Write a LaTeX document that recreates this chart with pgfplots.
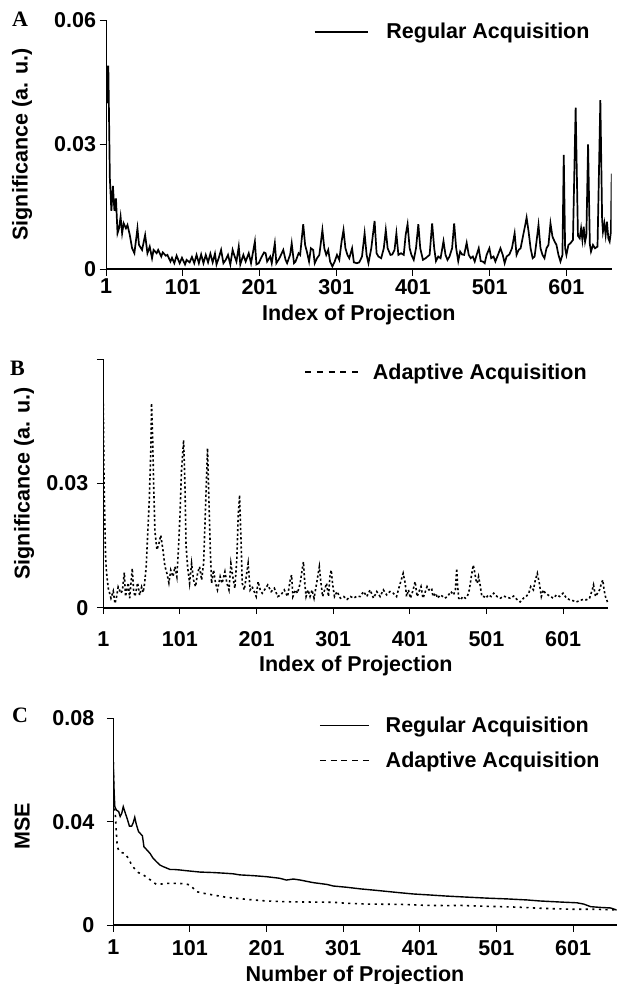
\documentclass[border=0pt]{standalone}
\usepackage{fontspec}
\setmainfont{Liberation Sans}
\newfontfamily\letterfont{Liberation Serif}
\usepackage{pgfplots}
\pgfplotsset{compat=1.18}

\pgfplotstableread{
x y
1 0.046
2 0.049
3 0.040
4 0.049
5 0.036
6 0.022
8 0.014
10 0.020
12 0.014
14 0.017
16 0.0086
18 0.0098
20 0.0126
22 0.0086
24 0.011
27 0.0098
29 0.0106
32 0.0082
35 0.005
38 0.0038
42 0.0098
44 0.0058
48 0.0046
52 0.0082
55 0.0038
58 0.0054
61 0.0026
63 0.0046
67 0.0038
69 0.0046
73 0.003
75 0.004
79 0.0032
81 0.0034
85 0.0018
87 0.0027
90 0.0014
93 0.0032
97 0.0014
100 0.0027
104 0.0011
106 0.0022
110 0.0016
113 0.0029
116 0.0014
119 0.0034
122 0.0014
125 0.0035
128 0.0014
131 0.0034
134 0.0016
137 0.0037
140 0.0016
143 0.0037
145 0.0011
148 0.0027
151 0.0046
154 0.0014
157 0.0022
160 0.0034
163 0.0011
166 0.0046
168 0.0034
171 0.0018
174 0.0054
176 0.0011
180 0.0034
183 0.0018
187 0.0038
190 0.0014
195 0.0066
197 0.0011
200 0.0014
204 0.003
207 0.004
209 0.0038
211 0.0018
215 0.003
217 0.0014
221 0.0062
223 0.0014
227 0.0026
229 0.0034
232 0.0046
235 0.0022
237 0.0014
241 0.0035
243 0.0062
246 0.0014
248 0.0018
252 0.0038
254 0.0034
258 0.0108
260.5 0.0058
263 0.004
265.6 0.0018
268 0.005
271 0.0046
273 0.0014
276 0.0026
279 0.0034
283 0.0094
285.5 0.005
288 0.0034
290.6 0.0046
293 0.0018
296 0.0006
299 0.0018
302 0.0034
305 0.0022
308 0.0066
310.5 0.0094
313 0.005
315.6 0.0034
318 0.0026
321.7 0.005
324 0.0016
328 0.0014
331 0.0016
334.6 0.003
338 0.0086
340.6 0.0034
343 0.0014
346.7 0.005
351 0.0116
353.6 0.0038
356 0.003
359.6 0.0026
363 0.005
365.6 0.0094
368 0.005
371.7 0.0034
374 0.0035
377 0.0046
379.4 0.0086
382 0.0034
385.5 0.0038
389 0.0034
391.5 0.0082
394 0.0108
396.7 0.005
399 0.0034
402 0.0022
405 0.005
408 0.0108
410.5 0.005
414 0.0022
417.5 0.0026
420 0.003
422.7 0.0034
426 0.011
428.7 0.005
431 0.0019
434 0.003
437 0.0026
440.8 0.0067
443.4 0.0034
446 0.0022
448.6 0.003
452 0.005
454.7 0.011
457.3 0.005
460 0.0019
462.5 0.0042
465 0.0035
467.7 0.0034
471 0.0063
473.7 0.0034
476.3 0.0026
479 0.003
481.5 0.0018
484 0.0034
486.7 0.005
489.3 0.0019
492 0.0018
494.5 0.0014
497 0.0034
500.6 0.005
503 0.0026
506 0.003
508.4 0.0018
512 0.0035
515 0.005
518 0.0034
520.5 0.0014
523 0.003
526.6 0.0035
530 0.005
533.5 0.0086
536 0.0034
538.7 0.0046
541.3 0.005
544.7 0.0082
547.3 0.0106
549.1 0.0124
551.7 0.009
554.3 0.005
557 0.0026
559.5 0.003
562 0.0066
564.6 0.0106
567.2 0.005
569.8 0.0034
572.4 0.0026
575 0.005
577.6 0.0058
580.2 0.011
582.8 0.0078
585.4 0.0067
588 0.0058
590.6 0.0034
593.2 0.0018
595.8 0.0034
597.5 0.0275
599.3 0.005
601 0.0034
603.6 0.0058
606.2 0.0062
609.5 0.007
613 0.0389
616 0.008
618.3 0.0074
620.1 0.0098
621.8 0.007
623.5 0.0102
625.3 0.0066
627 0.0082
629.2 0.030
631.5 0.006
633 0.0042
635.6 0.0058
638.2 0.005
641.5 0.0054
645.2 0.0407
647.5 0.012
648.6 0.009
650.4 0.011
652.1 0.0082
653.8 0.0114
655.6 0.0074
657.3 0.0066
659 0.009
660 0.023
}\regular

\pgfplotstableread{
x y
1 0.0493
2 0.030
4 0.012
5.3 0.0083
7.5 0.0047
11 0.0023
14 0.004
16.2 0.001
18.4 0.0027
20.4 0.005
24 0.0035
26 0.0042
28.4 0.0085
30 0.0027
33.6 0.006
35.4 0.0023
38.8 0.0095
40.5 0.0043
42.3 0.0027
45.8 0.006
48.4 0.003
51 0.005
53 0.0037
55 0.006
57 0.01
59 0.018
61 0.026
63 0.038
64 0.0494
65.5 0.040
66.7 0.030
68.4 0.0184
71 0.014
73.6 0.0155
76 0.0175
78.8 0.014
81.4 0.010
84 0.0083
86.6 0.006
89 0.0091
91.9 0.0075
94.5 0.0099
97 0.0075
99 0.014
101 0.022
103 0.033
105.8 0.0405
107.5 0.030
109 0.015
111 0.0099
113.6 0.0059
116.2 0.0107
118.8 0.0067
121.4 0.0051
124 0.0083
126.6 0.0099
129.3 0.0067
131.9 0.0107
134 0.022
137 0.0385
138.8 0.026
140.6 0.014
142.3 0.0059
144.9 0.0091
147.5 0.0059
150 0.0043
153.5 0.0075
156 0.0059
159.7 0.0087
162.3 0.0059
165 0.0043
167.5 0.0107
170 0.0075
172.7 0.0047
175.3 0.012
177 0.022
178.8 0.0272
180.6 0.017
182.3 0.0059
185 0.0043
187.5 0.0075
190 0.0107
192.6 0.0043
195.2 0.0051
197.9 0.0039
200.5 0.0027
203 0.0063
205.8 0.0043
208.4 0.0035
211.3 0.0043
215.6 0.0055
220 0.0039
224.2 0.0047
228.6 0.0027
232.9 0.0031
237.2 0.0043
241.5 0.0027
244.9 0.0067
246.7 0.0079
248.4 0.0027
251.8 0.0043
254.4 0.0035
257.9 0.0059
260.4 0.0091
262.2 0.0111
263.9 0.0059
265.6 0.0027
268.2 0.0043
270.8 0.0027
273.4 0.0043
276 0.0023
279.4 0.0059
282.9 0.0099
284.6 0.0067
287.2 0.0027
289.8 0.0043
292.3 0.0059
294.9 0.0027
296.7 0.0075
298.4 0.0091
300.1 0.0059
302.7 0.0027
306.1 0.0039
310.4 0.0023
314.8 0.0027
319.1 0.002
323.4 0.0027
327.7 0.0023
332 0.0028
336.3 0.0027
340.6 0.0039
344.9 0.0027
349.2 0.0043
353.6 0.0023
357.9 0.0039
362.2 0.0027
366.5 0.0043
370.8 0.0031
375.1 0.0039
379.4 0.0035
383.7 0.0027
387.2 0.0051
389.8 0.0067
392.3 0.0083
395 0.0059
396.7 0.0027
399.2 0.0043
401.8 0.0023
405.3 0.0043
407.9 0.0063
410.5 0.0027
413 0.0039
415.6 0.0051
418.2 0.0023
423.5 0.0051
426 0.0043
429.5 0.0047
431.2 0.0027
434.7 0.0035
437.3 0.0023
440.7 0.0031
444.1 0.0027
446.7 0.0023
450.2 0.0027
454.5 0.0039
458 0.0031
460.5 0.0043
462.2 0.0095
463.1 0.0059
464.8 0.0023
467.4 0.0019
470 0.0027
473.5 0.0023
476 0.0027
478.6 0.0043
481.2 0.0075
483.8 0.0103
485.5 0.0087
487.3 0.0067
489 0.0059
490.7 0.0075
492.4 0.0059
495 0.0027
497.6 0.0027
500.2 0.0023
503.6 0.0031
507.1 0.0027
510.5 0.0035
514.8 0.0027
519.2 0.0023
523.5 0.0028
527.8 0.0025
532.1 0.0023
536.4 0.0028
540.7 0.002
545 0.0014
549.3 0.0023
552.8 0.0027
556.2 0.0035
558.8 0.0051
562.3 0.0043
564.8 0.0067
567.4 0.0083
570 0.0059
572.6 0.0027
575.2 0.0043
577.8 0.0035
581.2 0.0031
584.7 0.0027
588.1 0.0023
592.4 0.0031
596.7 0.0027
601 0.0035
605.4 0.0023
609.7 0.0019
614 0.0017
618.3 0.0014
622.6 0.0017
626.9 0.002
631.3 0.0019
635.5 0.0023
639 0.0043
640.7 0.0055
643.3 0.0027
645.9 0.0035
648.5 0.0043
651.1 0.0059
652.8 0.0067
654.5 0.0043
656.2 0.0027
658 0.0019
659.7 0.0009
}\adaptive

\pgfplotstableread{
x y
1 0.063
2 0.052
3 0.0458
5 0.0445
8 0.0439
10 0.042
12 0.0432
14 0.0458
17 0.043
19 0.0413
22 0.0383
25 0.0383
27 0.0396
29 0.0417
31 0.039
34 0.0361
36 0.0355
39 0.0345
41 0.0303
45 0.029
49 0.0277
53 0.0258
58 0.0243
62 0.0232
66 0.0226
71 0.022
75 0.0215
80 0.0215
88 0.0213
97 0.021
114 0.0205
132 0.0203
149 0.020
158 0.0198
166 0.0194
184 0.0191
201 0.0187
218 0.0181
227 0.0174
236 0.0178
245 0.0174
262 0.0164
280 0.0157
288 0.0151
306 0.0146
323 0.014
341 0.0135
358 0.013
375 0.0125
393 0.012
410 0.0117
436 0.0112
462 0.0108
489 0.0104
515 0.0101
541 0.0097
558 0.0093
584 0.0089
606 0.0086
615 0.0081
624 0.0071
637 0.0068
650 0.0066
658 0.0058
}\mseregular

\pgfplotstableread{
x y
1 0.063
2 0.046
3.6 0.0432
4.5 0.038
6.2 0.0303
8.8 0.0284
12.3 0.028
16.2 0.0277
20.6 0.0258
25 0.0232
29.3 0.0216
33.7 0.0203
40 0.0194
46.7 0.0181
53.2 0.0165
57.6 0.0157
62 0.0158
70.7 0.0161
88 0.0161
96.8 0.0158
101 0.0155
105.5 0.0142
109.8 0.0129
118.5 0.0123
131.6 0.0116
149 0.0107
166.4 0.0102
183.8 0.0097
201 0.0093
227 0.009
253.5 0.0089
288 0.0088
305.7 0.0084
332 0.0081
375 0.008
410 0.0076
440 0.0075
453.7 0.0076
470 0.0074
506 0.0071
530 0.0069
549.5 0.0066
575.7 0.0063
601.8 0.0061
630 0.0061
658 0.0058
}\mseadaptive

\pgfplotsset{
  panel/.style={
    scale only axis,
    axis lines=left,
    axis line style={-, line width=1pt},
    tick align=outside,
    major tick length=6.5pt,
    tick style={black, line width=1pt},
    scaled x ticks=false, scaled y ticks=false,
    xmin=1, xmax=660,
    xtick={1,101,201,301,401,501,601},
    xticklabels={1,101,201,301,401,501,601},
    font=\fontsize{21.5}{25}\selectfont\bfseries,
    legend cell align=left,
    legend style={draw=none, fill=none, inner sep=0pt, outer sep=0pt,
      nodes={inner sep=0pt}},
  },
}

\begin{document}
\begin{tikzpicture}
\useasboundingbox (0,0) rectangle (617pt,-984pt);

% A: regular acquisition
\begin{axis}[panel,
  at={(106pt,-269pt)}, anchor=south west,
  width=505.7pt, height=249pt,
  ymin=0, ymax=0.06,
  ytick={0,0.03,0.06}, yticklabels={0,0.03,0.06},
  x axis line style={line width=2.2pt},
  xlabel={Index of Projection},
  xlabel style={at={(axis description cs:0.5,0)}, anchor=base, yshift=-51pt},
  ylabel={Significance (a. u.)},
  ylabel style={at={(axis description cs:-0.166,0.5)}, anchor=center},
  legend style={at={(axis description cs:0.411,0.952)}, anchor=west},
]
\addplot[black, line width=1.7pt,
  legend image code/.code={\draw[black, line width=1.5pt] (0pt,0pt) -- (53pt,0pt); \path (71pt,0pt);}]
  table {\regular};
\addlegendentry{Regular Acquisition}
\end{axis}

% B: adaptive acquisition
\begin{axis}[panel,
  at={(103.3pt,-607.7pt)}, anchor=south west,
  width=505pt, height=248.4pt,
  ymin=0, ymax=0.06,
  ytick={0,0.03,0.06}, yticklabels={0,0.03,{}},
  yticklabel style={xshift=-5pt},
  xticklabel style={yshift=-14pt},
  x axis line style={line width=2pt},
  xlabel={Index of Projection},
  xlabel style={at={(axis description cs:0.5,0)}, anchor=base, yshift=-64pt},
  ylabel={Significance (a. u.)},
  ylabel style={at={(axis description cs:-0.157,0.5)}, anchor=center},
  legend style={at={(axis description cs:0.398,0.948)}, anchor=west},
]
\addplot[black, line width=1.6pt, dash pattern=on 2.2pt off 2.4pt,
  legend image code/.code={\draw[black, line width=1.5pt, dash pattern=on 6pt off 5.75pt] (0pt,0pt) -- (53pt,0pt); \path (67pt,0pt);}]
  table {\adaptive};
\addlegendentry{Adaptive Acquisition}
\end{axis}

% C: mean squared error
\begin{axis}[panel,
  at={(113.3pt,-925pt)}, anchor=south west,
  width=503.4pt, height=206.7pt,
  xmax=658,
  ymin=0, ymax=0.08,
  ytick={0,0.04,0.08}, yticklabels={0,0.04,0.08},
  yticklabel style={xshift=-9pt},
  xticklabel style={yshift=-5pt},
  x axis line style={line width=1.2pt},
  xlabel={Number of Projection},
  xlabel style={at={(axis description cs:0.5,0)}, anchor=base, yshift=-56pt, xshift=-10pt},
  ylabel={MSE},
  ylabel style={at={(axis description cs:-0.181,0.479)}, anchor=center},
  legend style={at={(axis description cs:0.409,0.8805)}, anchor=west, row sep=17.8pt},
]
\addplot[black, line width=1.4pt,
  legend image code/.code={\draw[black, line width=1.5pt] (0pt,0pt) -- (49pt,0pt); \path (65pt,0pt);}]
  table {\mseregular};
\addlegendentry{Regular Acquisition}
\addplot[black, line width=1.6pt, dash pattern=on 2.2pt off 4.4pt,
  legend image code/.code={\draw[black, line width=1.5pt, dash pattern=on 6pt off 4.75pt] (0pt,0pt) -- (49pt,0pt); \path (65pt,0pt);}]
  table {\mseadaptive};
\addlegendentry{Adaptive Acquisition}
\end{axis}

\node[anchor=base west, inner sep=0pt, font=\fontsize{22}{26}\selectfont\letterfont\bfseries] at (12pt,-27pt) {A};
\node[anchor=base west, inner sep=0pt, font=\fontsize{22}{26}\selectfont\letterfont\bfseries] at (10pt,-375pt) {B};
\node[anchor=base west, inner sep=0pt, font=\fontsize{22}{26}\selectfont\letterfont\bfseries] at (12pt,-722pt) {C};
\end{tikzpicture}
\end{document}
